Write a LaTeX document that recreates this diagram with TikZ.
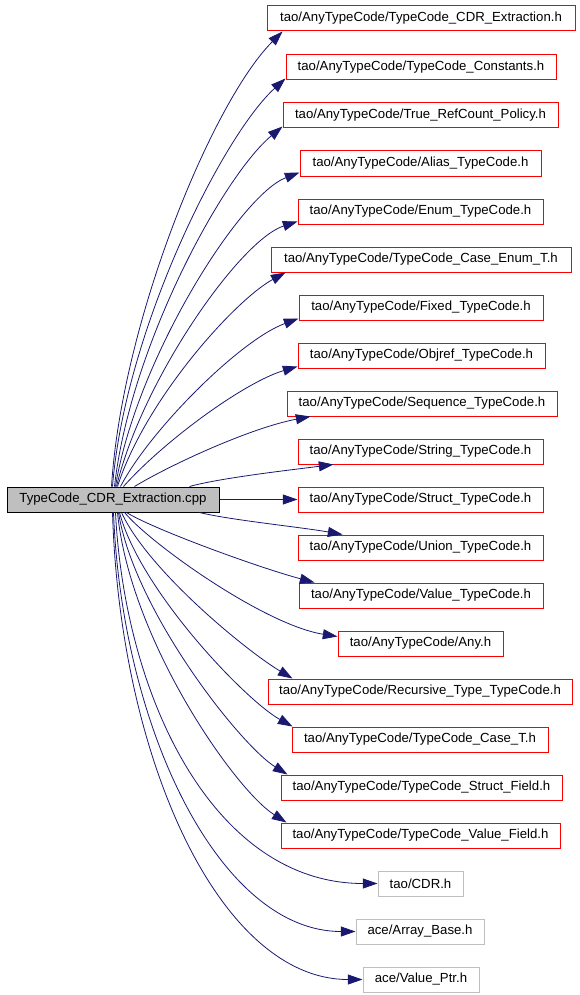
\documentclass[tikz,border=0pt]{standalone}
\usepackage{fontspec}
\setmainfont{Liberation Sans}
\usetikzlibrary{arrows.meta,calc}
\definecolor{edgeblue}{HTML}{191970}
\definecolor{boxgray}{HTML}{BFBFBF}
\begin{document}
\begin{tikzpicture}[x=0.75pt,y=-0.75pt,
  every node/.style={font=\fontsize{9.9}{12}\selectfont, inner sep=0pt, minimum height=18.75pt, line width=0.75pt},
  redbox/.style={draw=red, fill=white, minimum width=#1*0.75pt},
  graybox/.style={draw=boxgray, fill=white, minimum width=#1*0.75pt},
  srcbox/.style={draw=black, fill=boxgray, minimum width=#1*0.75pt},
  dep/.style={draw=edgeblue, line width=0.6pt, -{Triangle[length=11pt,width=7.5pt]}}]
\useasboundingbox (0,0) rectangle (579,995);

\node[srcbox=212] (src) at (113,499.5) {TypeCode\_CDR\_Extraction.cpp};

\node[redbox=308] (t0) at (421,18.5) {tao/AnyTypeCode/TypeCode\_CDR\_Extraction.h};
\node[redbox=270] (t1) at (421,67.5) {tao/AnyTypeCode/TypeCode\_Constants.h};
\node[redbox=275] (t2) at (420.5,115.5) {tao/AnyTypeCode/True\_RefCount\_Policy.h};
\node[redbox=241] (t3) at (420.5,163.5) {tao/AnyTypeCode/Alias\_TypeCode.h};
\node[redbox=245] (t4) at (420.5,211.5) {tao/AnyTypeCode/Enum\_TypeCode.h};
\node[redbox=300] (t5) at (421,259.5) {tao/AnyTypeCode/TypeCode\_Case\_Enum\_T.h};
\node[redbox=244] (t6) at (421,307.5) {tao/AnyTypeCode/Fixed\_TypeCode.h};
\node[redbox=247] (t7) at (421.5,355.5) {tao/AnyTypeCode/Objref\_TypeCode.h};
\node[redbox=270] (t8) at (422,403.5) {tao/AnyTypeCode/Sequence\_TypeCode.h};
\node[redbox=245] (t9) at (420.5,451.5) {tao/AnyTypeCode/String\_TypeCode.h};
\node[redbox=245] (t10) at (420.5,499.5) {tao/AnyTypeCode/Struct\_TypeCode.h};
\node[redbox=245] (t11) at (420.5,547.5) {tao/AnyTypeCode/Union\_TypeCode.h};
\node[redbox=244] (t12) at (421,595.5) {tao/AnyTypeCode/Value\_TypeCode.h};
\node[redbox=165] (t13) at (420.5,643.5) {tao/AnyTypeCode/Any.h};
\node[redbox=304] (t14) at (420,691.5) {tao/AnyTypeCode/Recursive\_Type\_TypeCode.h};
\node[redbox=256] (t15) at (420,739.5) {tao/AnyTypeCode/TypeCode\_Case\_T.h};
\node[redbox=281] (t16) at (421.5,787.5) {tao/AnyTypeCode/TypeCode\_Struct\_Field.h};
\node[redbox=279] (t17) at (420.5,835.5) {tao/AnyTypeCode/TypeCode\_Value\_Field.h};
\node[graybox=85] (t18) at (420.5,883.5) {tao/CDR.h};
\node[graybox=128] (t19) at (420,931.5) {ace/Array\_Base.h};
\node[graybox=116] (t20) at (421,979.5) {ace/Value\_Ptr.h};

\draw[dep] ($(src.north west)+(105,0)$) .. controls (122,320) and (213,101) .. ($(t0.south west)+(16,0)$);
\draw[dep] ($(src.north west)+(106,0)$) .. controls (125,330) and (223,135) .. ($(t1.south west)+(0,-2)$);
\draw[dep] ($(src.north west)+(108,0)$) .. controls (130,347) and (223,176) .. ($(t2.south west)+(0,-2)$);
\draw[dep] ($(src.north west)+(109,0)$) .. controls (136,360) and (240,195) .. ($(t3.south west)+(0,-4)$);
\draw[dep] ($(src.north west)+(110,0)$) .. controls (142,380) and (240,240) .. ($(t4.south west)+(0,-3)$);
\draw[dep] ($(src.north west)+(111,0)$) .. controls (145,400) and (235,300) .. ($(t5.south west)+(15,0)$);
\draw[dep] ($(src.north west)+(114,0)$) .. controls (150,430) and (240,340) .. ($(t6.south west)+(0,-2)$);
\draw[dep] ($(src.north west)+(117,0)$) .. controls (165,440) and (245,382) .. ($(t7.south west)+(0,-2)$);
\draw[dep] ($(src.north west)+(128,0)$) .. controls (170,465) and (250,428) .. ($(t8.south west)+(24,0)$);
\draw[dep] ($(src.north west)+(183,0)$) .. controls (220,478) and (290,470) .. ($(t9.south west)+(36,0)$);
\draw[dep] (src.east) -- (t10.west);
\draw[dep] ($(src.south west)+(193,0)$) .. controls (230,520) and (300,527) .. ($(t11.north west)+(45,0)$);
\draw[dep] ($(src.south west)+(120,0)$) .. controls (155,530) and (260,568) .. ($(t12.north west)+(16,0)$);
\draw[dep] ($(src.south west)+(118,0)$) .. controls (152,545) and (265,625) .. ($(t13.north west)+(0,6)$);
\draw[dep] ($(src.south west)+(115,0)$) .. controls (148,570) and (245,650) .. ($(t14.north west)+(25,0)$);
\draw[dep] ($(src.south west)+(113,0)$) .. controls (140,590) and (245,700) .. ($(t15.north west)+(1,0)$);
\draw[dep] ($(src.south west)+(112,0)$) .. controls (134,610) and (240,745) .. ($(t16.north west)+(7,0)$);
\draw[dep] ($(src.south west)+(111,0)$) .. controls (130,640) and (235,790) .. ($(t17.north west)+(6,0)$);
\draw[dep] ($(src.south west)+(109,0)$) .. controls (125,700) and (215,883.5) .. (t18.west);
\draw[dep] ($(src.south west)+(107,0)$) .. controls (122,730) and (220,931.5) .. (t19.west);
\draw[dep] ($(src.south west)+(106,0)$) .. controls (120,760) and (220,979.5) .. (t20.west);
\end{tikzpicture}
\end{document}
